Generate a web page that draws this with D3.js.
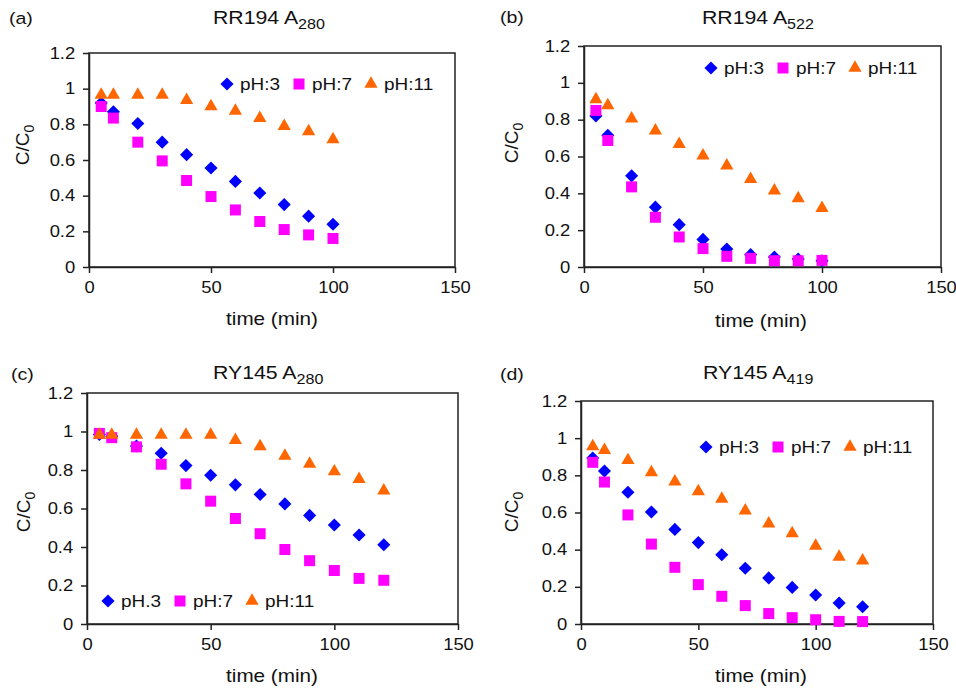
<!DOCTYPE html>
<html lang="en">
<head>
  <meta charset="UTF-8">
  <script src="https://cdn.jsdelivr.net/npm/d3@7"></script>
  <title>C/C0 vs time</title>
  <style>
    body { margin: 0; background: #fff; }
    text { font-family: Arial, "Liberation Sans", sans-serif; fill: #111; }
  </style>
</head>
<body>
  <svg width="956" height="693" id="chart"></svg>
  <script>
    // time points (min)
    const timeA = [5, 10, 20, 30, 40, 50, 60, 70, 80, 90, 100];
    const timeB = [5, 10, 20, 30, 40, 50, 60, 70, 80, 90, 100, 110, 120];

    // (a) RR194 A280
    const rr280pH3  = [0.92, 0.87, 0.805, 0.70, 0.63, 0.555, 0.48, 0.415, 0.35, 0.285, 0.24];
    const rr280pH7  = [0.90, 0.835, 0.70, 0.595, 0.485, 0.395, 0.32, 0.255, 0.21, 0.18, 0.16];
    const rr280pH11 = [0.965, 0.965, 0.965, 0.965, 0.935, 0.90, 0.875, 0.835, 0.79, 0.76, 0.715];

    // (b) RR194 A522
    const rr522pH3  = [0.82, 0.715, 0.495, 0.325, 0.23, 0.15, 0.098, 0.067, 0.054, 0.043, 0.034];
    const rr522pH7  = [0.85, 0.687, 0.435, 0.27, 0.163, 0.10, 0.058, 0.047, 0.034, 0.034, 0.036];
    const rr522pH11 = [0.91, 0.878, 0.805, 0.74, 0.667, 0.605, 0.55, 0.477, 0.415, 0.372, 0.32];

    // (c) RY145 A280
    const ry280pH3  = [0.985, 0.975, 0.925, 0.887, 0.823, 0.773, 0.723, 0.673, 0.624, 0.564, 0.514, 0.462, 0.412];
    const ry280pH7  = [0.99, 0.968, 0.92, 0.83, 0.728, 0.638, 0.548, 0.469, 0.387, 0.329, 0.278, 0.237, 0.227];
    const ry280pH11 = [0.982, 0.982, 0.982, 0.982, 0.982, 0.982, 0.955, 0.923, 0.873, 0.832, 0.792, 0.752, 0.693];

    // (d) RY145 A419
    const ry419pH3  = [0.893, 0.823, 0.709, 0.603, 0.509, 0.438, 0.373, 0.30, 0.248, 0.197, 0.156, 0.113, 0.093];
    const ry419pH7  = [0.87, 0.764, 0.587, 0.43, 0.305, 0.212, 0.149, 0.099, 0.056, 0.034, 0.023, 0.014, 0.013];
    const ry419pH11 = [0.956, 0.936, 0.881, 0.816, 0.766, 0.714, 0.673, 0.61, 0.54, 0.488, 0.42, 0.361, 0.341];

    const xTicks = [0, 50, 100, 150];
    const yTicks = [0, 0.2, 0.4, 0.6, 0.8, 1, 1.2];

    const STRETCH = 1.15; // the source text is a bit wider than the font

    // one entry per series: marker shape + colour
    const seriesStyle = [
      { shape: "diamond",  color: "#0000ff" },
      { shape: "square",   color: "#ff00ff" },
      { shape: "triangle", color: "#ff6600" }
    ];

    const panels = [
      { tag: "(a)", title: "RR194 A", sub: "280", time: timeA, series: [rr280pH3, rr280pH7, rr280pH11],
        names: ["pH:3", "pH:7", "pH:11"],
        box: [89, 53, 455, 267], tagPos: [9, 24], titlePos: [213, 24],
        ylab: [29, 145], xlab: [272, 325], legend: [227, 84] },
      { tag: "(b)", title: "RR194 A", sub: "522", time: timeA, series: [rr522pH3, rr522pH7, rr522pH11],
        names: ["pH:3", "pH:7", "pH:11"],
        box: [584, 46, 941, 267], tagPos: [500, 23], titlePos: [702, 24],
        ylab: [518, 143], xlab: [761, 327], legend: [711, 68] },
      { tag: "(c)", title: "RY145 A", sub: "280", time: timeB, series: [ry280pH3, ry280pH7, ry280pH11],
        names: ["pH.3", "pH:7", "pH:11"],
        box: [87, 393, 458, 624], tagPos: [11, 380], titlePos: [213, 379],
        ylab: [30, 512], xlab: [272, 682], legend: [108, 601] },
      { tag: "(d)", title: "RY145 A", sub: "419", time: timeB, series: [ry419pH3, ry419pH7, ry419pH11],
        names: ["pH:3", "pH:7", "pH:11"],
        box: [581, 401, 933, 624], tagPos: [500, 380], titlePos: [703, 379],
        ylab: [518, 512], xlab: [761, 682], legend: [706, 447] }
    ];

    let svg = d3.select("#chart");

    function marker(shape) {
      if (shape === "diamond") return d3.symbol().type(d3.symbolSquare).size(86)();
      if (shape === "square") return d3.symbol().type(d3.symbolSquare).size(121)();
      return d3.symbol().type(d3.symbolTriangle).size(76)();
    }
    function markerTransform(shape, x, y) {
      return "translate(" + x + "," + y + ")" + (shape === "diamond" ? " rotate(45)" : "");
    }

    panels.forEach(p => {
      const [x0, y0, x1, y1] = p.box;
      let scaleX = d3.scaleLinear().domain([0, 150]).range([x0, x1]);
      let scaleY = d3.scaleLinear().domain([0, 1.2]).range([y1, y0]);

      // panel tag + title
      svg.append("text").text(p.tag)
        .attr("transform", "translate(" + p.tagPos[0] + "," + p.tagPos[1] + ") scale(" + STRETCH + ",1)")
        .style("font-size", "17px");
      let t = svg.append("text")
        .attr("transform", "translate(" + p.titlePos[0] + "," + p.titlePos[1] + ") scale(" + STRETCH + ",1)")
        .style("font-size", "18.5px");
      t.append("tspan").text(p.title);
      t.append("tspan").text(p.sub).attr("dy", 5).style("font-size", "14px");

      // frame
      svg.append("rect")
        .attr("x", x0).attr("y", y0)
        .attr("width", x1 - x0).attr("height", y1 - y0)
        .attr("fill", "none").attr("stroke", "#222").attr("stroke-width", 1.5);

      // axes
      let axisX = d3.axisBottom(scaleX).tickValues(xTicks).tickSize(6).tickSizeOuter(0).tickPadding(9);
      let gx = svg.append("g").attr("transform", "translate(0," + y1 + ")").call(axisX);
      let axisY = d3.axisLeft(scaleY).tickValues(yTicks).tickSize(6).tickSizeOuter(0).tickPadding(6)
        .tickFormat(d => String(+d.toFixed(1)));
      let gy = svg.append("g").attr("transform", "translate(" + x0 + ",0)").call(axisY);
      [gx, gy].forEach(g => {
        g.select(".domain").attr("stroke", "#222").attr("stroke-width", 1.5);
        g.selectAll(".tick line").attr("stroke", "#222").attr("stroke-width", 1.5);
        g.selectAll(".tick text")
          .attr("transform", "scale(" + STRETCH + ",1)")
          .style("font-size", "16px").style("font-family", "Arial, 'Liberation Sans', sans-serif")
          .attr("fill", "#111");
      });

      // axis titles
      svg.append("text").text("time (min)")
        .attr("text-anchor", "middle")
        .attr("transform", "translate(" + p.xlab[0] + "," + p.xlab[1] + ") scale(" + STRETCH + ",1)")
        .style("font-size", "18px");
      let yl = svg.append("text")
        .attr("text-anchor", "middle")
        .attr("transform", "translate(" + p.ylab[0] + "," + p.ylab[1] + ") rotate(-90)")
        .style("font-size", "19px");
      yl.append("tspan").text("C/C");
      yl.append("tspan").text("0").attr("dy", 5).style("font-size", "14px");

      // points
      p.series.forEach((vals, si) => {
        const st = seriesStyle[si];
        svg.selectAll(null)
          .data(vals)
          .enter()
          .append("path")
          .attr("d", marker(st.shape))
          .attr("transform", (d, i) => markerTransform(st.shape, scaleX(p.time[i]), scaleY(d)))
          .attr("fill", st.color);
      });

      // legend
      p.names.forEach((name, si) => {
        const st = seriesStyle[si];
        const lx = p.legend[0] + si * 72;
        const ly = p.legend[1];
        svg.append("path")
          .attr("d", marker(st.shape))
          .attr("transform", markerTransform(st.shape, lx, ly))
          .attr("fill", st.color);
        svg.append("text").text(name)
          .attr("transform", "translate(" + (lx + 13) + "," + (ly + 6) + ") scale(" + STRETCH + ",1)")
          .style("font-size", "16.5px");
      });
    });
  </script>
</body>
</html>
